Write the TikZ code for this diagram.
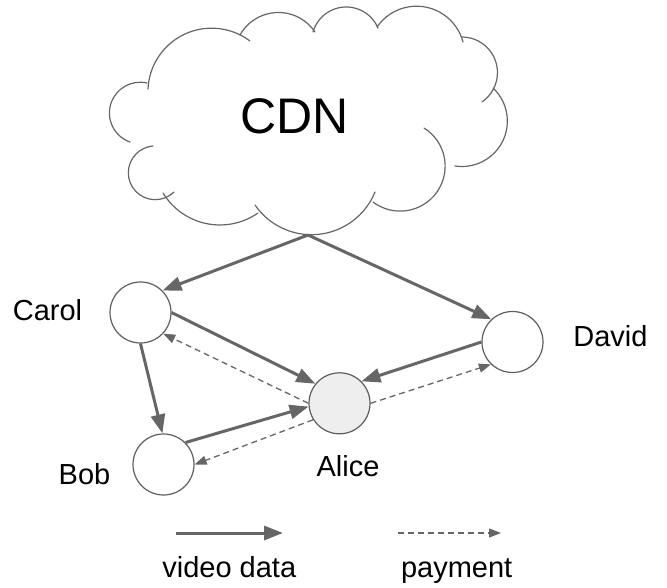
\documentclass[tikz,border=0pt]{standalone}
\usepackage{fontspec}
\setmainfont{Liberation Sans}
\usetikzlibrary{arrows.meta,calc}
\definecolor{linegray}{HTML}{666666}
\definecolor{circgray}{HTML}{5E5E5E}
\definecolor{alicefill}{HTML}{EEEEEE}
% one lobe of the cloud: circular arc from (#1,#2) to (#3,#4) (pixel coords, y down), sagitta #5
\newcommand{\arclobe}[5]{%
 \pgfmathsetmacro{\ax}{#1}\pgfmathsetmacro{\ay}{-(#2)}%
 \pgfmathsetmacro{\bx}{#3}\pgfmathsetmacro{\by}{-(#4)}%
 \pgfmathsetmacro{\cc}{veclen(\bx-\ax,\by-\ay)}%
 \pgfmathsetmacro{\RR}{\cc*\cc/(8*#5)+#5/2}%
 \pgfmathsetmacro{\nx}{-(\by-\ay)/\cc}\pgfmathsetmacro{\ny}{(\bx-\ax)/\cc}%
 \pgfmathsetmacro{\ox}{(\ax+\bx)/2-\nx*(\RR-#5)}%
 \pgfmathsetmacro{\oy}{(\ay+\by)/2-\ny*(\RR-#5)}%
 \pgfmathsetmacro{\sa}{atan2(\ay-\oy,\ax-\ox)}%
 \pgfmathsetmacro{\ea}{atan2(\by-\oy,\bx-\ox)}%
 \pgfmathsetmacro{\ea}{\ea>\sa ? \ea-360 : \ea}%
 \draw[cloudline] (\ax pt,\ay pt) arc[start angle=\sa, end angle=\ea, radius=\RR pt];%
}
\begin{document}
\begin{tikzpicture}[x=1pt,y=-1pt,
  cloudline/.style={draw=linegray,line width=1.2pt,line cap=round},
  peer/.style={circle,draw=circgray,line width=1.2pt,minimum size=61pt,inner sep=0pt,fill=white},
  lbl/.style={anchor=base,inner sep=0pt,font=\fontsize{29}{34}\selectfont},
  video/.style={draw=linegray,line width=3pt,-{Triangle[length=19pt,width=14pt]}},
  pay/.style={draw=linegray,line width=1.3pt,dash pattern=on 6pt off 4pt,-{Triangle[length=12pt,width=9pt]}}]
\useasboundingbox (0,0) rectangle (667,587);
% cloud
\arclobe{148}{89}{250}{41}{34}
\arclobe{240}{35}{315}{32}{21}
\arclobe{313}{32}{378}{28}{23}
\arclobe{377}{27}{463}{42}{28}
\arclobe{462}{37}{482}{102}{25}
\arclobe{493}{88}{455}{166}{32}
\arclobe{424}{128}{373}{202}{47}
\arclobe{375}{192}{255}{205}{36}
\arclobe{258}{213}{163}{193}{21}
\arclobe{174}{192}{153}{146}{36}
\arclobe{130}{142}{147}{83}{29}
\node[anchor=base,inner sep=0pt,font=\fontsize{50}{60}\selectfont] (cdn) at (294.2,133.3) {CDN};
\coordinate (cdnout) at (308,235);
% peers
\node[peer] (carol) at (140.5,312.5) {};
\node[peer] (david) at (512.5,342) {};
\node[peer,fill=alicefill] (alice) at (339.5,403.3) {};
\node[peer] (bob) at (163.5,464.5) {};
\node[lbl] (carollbl) at (47.5,320) {Carol};
\node[lbl] (davidlbl) at (610.5,346.7) {David};
\node[lbl] (boblbl) at (84.5,484) {Bob};
\node[lbl] (alicelbl) at (348,476.7) {Alice};
% video data
\draw[video] (cdnout) -- (carol.45);
\draw[video] (cdnout) -- (david.133);
\draw[video] (carol.0) -- (alice.141);
\draw[video] (david.180) -- (alice.45);
\draw[video] (carol.270) -- (bob.92);
\draw[video] (bob.45) -- (alice.186);
% payment
\draw[pay] (alice.180) -- (carol.-43);
\draw[pay] (alice.0) -- (david.226);
\draw[pay] (alice.212) -- (bob.0);
% legend
\coordinate (lv1) at (176,533);
\coordinate (lv2) at (283,533);
\coordinate (lp1) at (398,533);
\coordinate (lp2) at (501,533);
\draw[video] (lv1) -- (lv2);
\draw[pay] (lp1) -- (lp2);
\node[lbl] (lvlbl) at (229.3,577) {video data};
\node[lbl] (lplbl) at (456.7,577) {payment};
\end{tikzpicture}
\end{document}
